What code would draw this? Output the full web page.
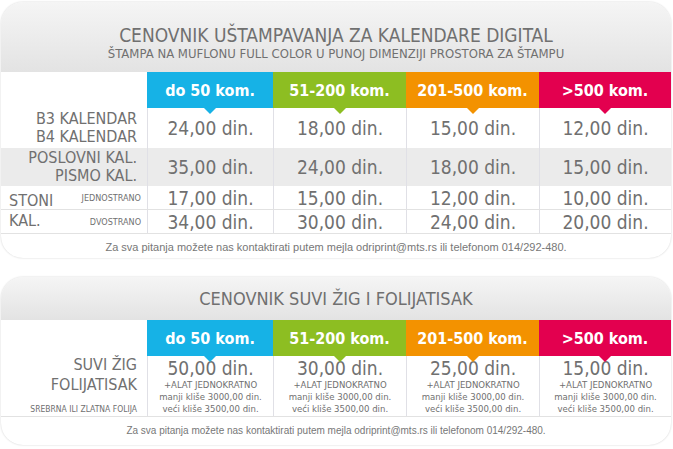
<!DOCTYPE html>
<html><head><meta charset="utf-8">
<script src="https://cdn.jsdelivr.net/npm/chart.js@4"></script>
<style>
body{margin:0;width:673px;height:449px;background:#fff;font-family:'DejaVu Sans Condensed','Liberation Sans Narrow',sans-serif;color:#707070;overflow:hidden}
.panel{position:absolute;left:1px;width:670px;border-radius:22px;overflow:hidden;background:#fff;box-shadow:0 0 2px #ccc}
.c{position:absolute;box-sizing:border-box;display:flex;align-items:center;justify-content:center;text-align:center}
.h{color:#fff;font-weight:bold;font-size:16px;z-index:2}
.arr{position:absolute;bottom:-6px;left:50%;margin-left:-6px;width:0;height:0;border:6px solid transparent;border-bottom:0}
.v{font-size:19px;border-left:1px solid #e0e0e6;}
.lab{font-size:16px;justify-content:flex-end;text-align:right;padding-right:10px;line-height:18px}
.foot{position:absolute;width:100%;text-align:center;font-family:'Liberation Sans',sans-serif;font-size:11px;color:#777}
</style></head><body>
<div id="p1" class="panel" style="top:2px;height:256px"></div>
<div id="p2" class="panel" style="top:277px;height:168px"></div>
<script>
const tiers = ["do 50 kom.", "51-200 kom.", "201-500 kom.", ">500 kom."];
const tierColors = ["#16b2e6", "#8dbe22", "#f39200", "#e3004f"];
const rowLabels = ["B3 KALENDAR<br>B4 KALENDAR", "POSLOVNI KAL.<br>PISMO KAL.", "JEDNOSTRANO", "DVOSTRANO"];
const b3b4 = ["24,00", "18,00", "15,00", "12,00"];
const poslovni = ["35,00", "24,00", "18,00", "15,00"];
const stoniJedno = ["17,00", "15,00", "12,00", "10,00"];
const stoniDvo = ["34,00", "30,00", "24,00", "20,00"];
const suviZig = ["50,00", "30,00", "25,00", "15,00"];
const colX = [146, 272, 405, 538, 670];

function cell(p, x, y, w, h, cls, html, style) {
  const d = document.createElement("div");
  d.className = "c " + cls;
  d.style.cssText = `left:${x}px;top:${y}px;width:${w}px;height:${h}px;` + (style || "");
  d.innerHTML = html;
  p.appendChild(d);
  return d;
}
function header(p, y, h) {
  tiers.forEach((t, i) => {
    cell(p, colX[i], y, colX[i + 1] - colX[i], h, "h",
      t + `<span class="arr" style="border-top-color:${tierColors[i]}"></span>`,
      `background:${tierColors[i]}`);
  });
}
function row(p, y, h, vals, bg, size) {
  cell(p, 0, y, 670, h, "", "", `background:${bg}`);
  vals.forEach((v, i) => cell(p, colX[i], y, colX[i + 1] - colX[i], h, "v", v + " din.", size ? `font-size:${size}px` : ""));
}

const p1 = document.getElementById("p1");
const t1 = cell(p1, 0, 0, 670, 70, "", "", "background:linear-gradient(#f5f5f5,#e3e3e3);flex-direction:column");
t1.innerHTML = '<div style="font-size:19px;line-height:22px;margin-top:10px">CENOVNIK UŠTAMPAVANJA ZA KALENDARE DIGITAL</div><div style="font-size:13px">ŠTAMPA NA MUFLONU FULL COLOR U PUNOJ DIMENZIJI PROSTORA ZA ŠTAMPU</div>';
header(p1, 70, 36);
row(p1, 106, 40, b3b4, "#fff");
row(p1, 146, 38, poslovni, "#ebebeb");
row(p1, 184, 24, stoniJedno, "#fff");
row(p1, 208, 24, stoniDvo, "#fff");
cell(p1, 0, 207, 670, 1, "", "", "background:#e2e2e2");
cell(p1, 0, 231, 670, 1, "", "", "background:#e2e2e2");
cell(p1, 0, 106, 146, 40, "lab", rowLabels[0]);
cell(p1, 0, 146, 146, 38, "lab", rowLabels[1]);
cell(p1, 0, 184, 146, 24, "lab", rowLabels[2], "font-size:9px;padding-right:6px");
cell(p1, 0, 208, 146, 24, "lab", rowLabels[3], "font-size:9px;padding-right:6px");
cell(p1, 8, 187, 50, 44, "", "<div>STONI<br>KAL.</div>", "font-size:16px;line-height:20px;justify-content:flex-start;text-align:left");
const f1 = document.createElement("div"); f1.className = "foot"; f1.style.top = "239px";
f1.textContent = "Za sva pitanja možete nas kontaktirati putem mejla odriprint@mts.rs ili telefonom 014/292-480.";
p1.appendChild(f1);

const p2 = document.getElementById("p2");
cell(p2, 0, 0, 670, 43, "", '<span style="font-size:18px">CENOVNIK SUVI ŽIG I FOLIJATISAK</span>', "background:linear-gradient(#f5f5f5,#e3e3e3)");
header(p2, 43, 36);
suviZig.forEach((v, i) => cell(p2, colX[i], 79, colX[i + 1] - colX[i], 60, "v",
  `<div><div style="font-size:19px;line-height:21px">${v} din.</div><div style="font-size:9.5px;line-height:12px">+ALAT JEDNOKRATNO<br>manji kliše 3000,00 din.<br>veći kliše 3500,00 din.</div></div>`));
cell(p2, 0, 139, 670, 1, "", "", "background:#e2e2e2");
cell(p2, 0, 82, 146, 56, "lab", '<div>SUVI ŽIG<br>FOLIJATISAK<div style="font-size:8.5px;margin-top:4px">SREBRNA ILI ZLATNA FOLIJA</div></div>', "font-size:16px;line-height:20px");
const f2 = document.createElement("div"); f2.className = "foot"; f2.style.top = "148px"; f2.style.fontSize = "10px";
f2.textContent = f1.textContent;
p2.appendChild(f2);
</script>
</body></html>
